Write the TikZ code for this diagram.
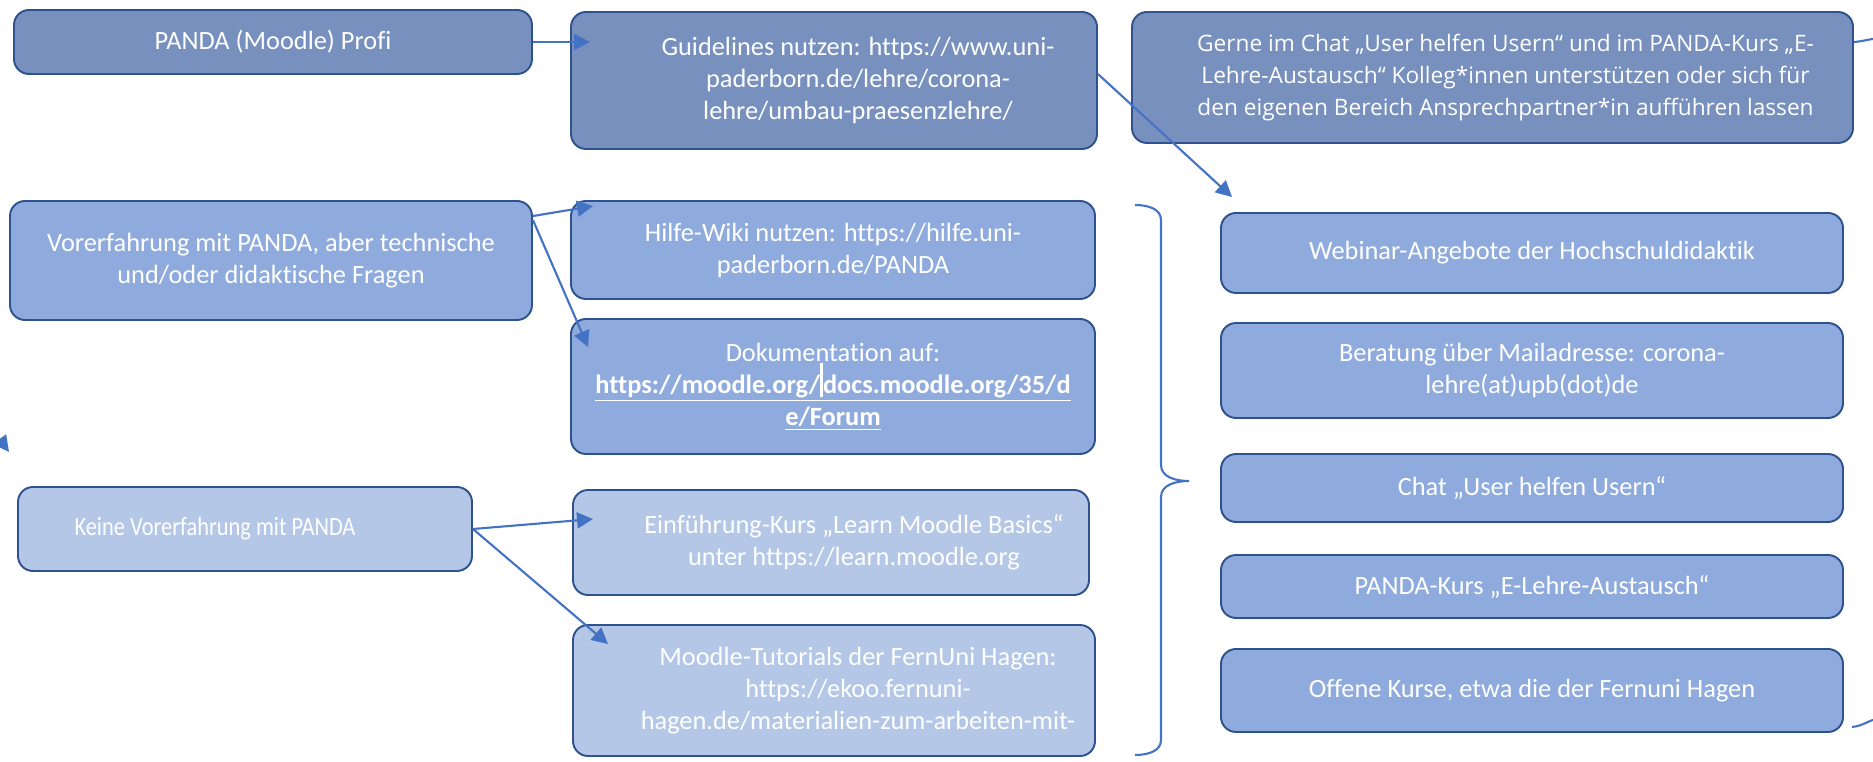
\documentclass[tikz,border=0pt]{standalone}
\usepackage{fontspec}
\setmainfont{Carlito}[Ligatures=NoCommon]
\newfontfamily\gernefont{Open Sans}
\newfontfamily\schmal{Carlito}[FakeStretch=0.85,Ligatures=NoCommon]
\usetikzlibrary{arrows.meta}
\definecolor{dunkel}{RGB}{120,144,190}
\definecolor{mittel}{RGB}{143,170,220}
\definecolor{hell}{RGB}{180,199,231}
\definecolor{rand}{RGB}{47,82,143}
\definecolor{pfeilblau}{RGB}{68,114,196}
\tikzset{
  kasten/.style={draw=rand, line width=1.1pt, rounded corners=3mm, text=white,
    align=center, inner sep=0pt, font=\fontsize{15}{18.2}\selectfont},
  pfeil/.style={draw=pfeilblau, line width=1.2pt, -{Triangle[length=3.2mm,width=3.2mm]}},
  linie/.style={draw=pfeilblau, line width=1.2pt},
}
\begin{document}
\begin{tikzpicture}
\useasboundingbox (0,0) rectangle (374.6mm,152.4mm);
\clip (0,0) rectangle (374.6mm,152.4mm);

% Profi
\node[kasten, fill=dunkel, minimum width=103.6mm, minimum height=12.8mm] (profi) at (54.6mm,144mm) {PANDA (Moodle) Profi};
\node[kasten, fill=dunkel, minimum width=105.2mm, minimum height=27.4mm] (guide) at (166.8mm,136.3mm)
  {\hspace*{9.6mm}Guidelines nutzen: https://www.uni-\\\hspace*{9.6mm}paderborn.de/lehre/corona-\\\hspace*{9.6mm}lehre/umbau-praesenzlehre/};
\node[kasten, fill=dunkel, minimum width=144.2mm, minimum height=26.2mm, font=\gernefont\fontsize{12.9}{18.2}\selectfont] (gerne) at (298.5mm,136.9mm)
  {\hspace*{5.2mm}Gerne im Chat „User helfen Usern“ und im PANDA-Kurs „E-\\\hspace*{5.2mm}Lehre-Austausch“ Kolleg*innen unterstützen oder sich für\\\hspace*{5.2mm}den eigenen Bereich Ansprechpartner*in aufführen lassen};

% Vorerfahrung
\node[kasten, fill=mittel, minimum width=104.4mm, minimum height=23.8mm] (vor) at (54.2mm,100.3mm)
  {Vorerfahrung mit PANDA, aber technische\\und/oder didaktische Fragen};
\node[kasten, fill=mittel, minimum width=104.8mm, minimum height=19.6mm] (hilfe) at (166.6mm,102.4mm)
  {Hilfe-Wiki nutzen: https://hilfe.uni-\\paderborn.de/PANDA};
\node[kasten, fill=mittel, minimum width=104.8mm, minimum height=27mm] (doku) at (166.6mm,75.1mm)
  {Dokumentation auf:\\\underline{\textbf{https://moodle.org/\rule[-0.3ex]{1.6pt}{2.7ex}docs.moodle.org/35/d}}\\\underline{\textbf{e/Forum}}};

% keine Vorerfahrung
\node[kasten, fill=hell, minimum width=90.8mm, minimum height=16.8mm, font=\schmal\fontsize{15}{18.2}\selectfont] (keine) at (49mm,46.6mm)
  {\hspace*{-12mm}Keine Vorerfahrung mit PANDA};
\node[kasten, fill=hell, minimum width=103.2mm, minimum height=21mm] (einf) at (166.2mm,43.9mm)
  {\hspace*{9.2mm}Einführung-Kurs „Learn Moodle Basics“\\\hspace*{9.2mm}unter https://learn.moodle.org};
\node[kasten, fill=hell, minimum width=104.4mm, minimum height=26.2mm] (tut) at (166.8mm,14.3mm)
  {\hspace*{9.6mm}Moodle-Tutorials der FernUni Hagen:\\\hspace*{9.6mm}https://ekoo.fernuni-\\\hspace*{9.6mm}hagen.de/materialien-zum-arbeiten-mit-};

% Angebote rechts
\node[kasten, fill=mittel, minimum width=124.4mm, minimum height=16mm] (web) at (306.4mm,101.8mm) {Webinar-Angebote der Hochschuldidaktik};
\node[kasten, fill=mittel, minimum width=124.4mm, minimum height=19mm] (mail) at (306.4mm,78.3mm) {Beratung über Mailadresse: corona-\\lehre(at)upb(dot)de};
\node[kasten, fill=mittel, minimum width=124.4mm, minimum height=13.6mm] (chat) at (306.4mm,54.8mm) {Chat „User helfen Usern“};
\node[kasten, fill=mittel, minimum width=124.4mm, minimum height=12.6mm] (kurs) at (306.4mm,35.1mm) {PANDA-Kurs „E-Lehre-Austausch“};
\node[kasten, fill=mittel, minimum width=124.4mm, minimum height=16.6mm] (offen) at (306.4mm,14.3mm) {Offene Kurse, etwa die der Fernuni Hagen};

% Klammer
\draw[linie] (227mm,111.4mm) to[out=0,in=90] (232.2mm,108.4mm) -- (232.2mm,59.4mm)
  to[out=-90,in=180] (237.8mm,56.2mm) to[out=180,in=90] (232.2mm,53mm) -- (232.2mm,4.4mm)
  to[out=-90,in=0] (227mm,1.4mm);

% Pfeile
\draw[pfeil] (profi.east) -- ([xshift=4mm]guide.west |- profi.east);
\draw[pfeil] ([yshift=-3.2mm]vor.north east) -- ([xshift=4.6mm,yshift=-1.2mm]hilfe.north west);
\draw[pfeil] ([yshift=-4mm]vor.north east) -- ([xshift=3.6mm,yshift=-5.8mm]doku.north west);
\draw[pfeil] (keine.east) -- ([xshift=4.2mm,yshift=-6mm]einf.north west);
\draw[pfeil] (keine.east) -- ([xshift=7.2mm,yshift=-4mm]tut.north west);
\draw[pfeil] ([yshift=-12.6mm]guide.north east) -- ([xshift=2.4mm,yshift=3mm]web.north west);

% Linien ueber den Rand
\coordinate (rausoben) at (376mm,144.8mm);
\coordinate (rausunten) at (376mm,8.8mm);
\coordinate (reinlinks) at (-3mm,68.5mm);
\draw[linie] ([yshift=-6.2mm]gerne.north east) to[out=5,in=185] (rausoben);
\draw[linie] ([xshift=1.6mm,yshift=1.2mm]offen.south east) to[out=5,in=190] (rausunten);
\draw[pfeil] (reinlinks) -- (1.8mm,62mm);
\end{tikzpicture}
\end{document}
